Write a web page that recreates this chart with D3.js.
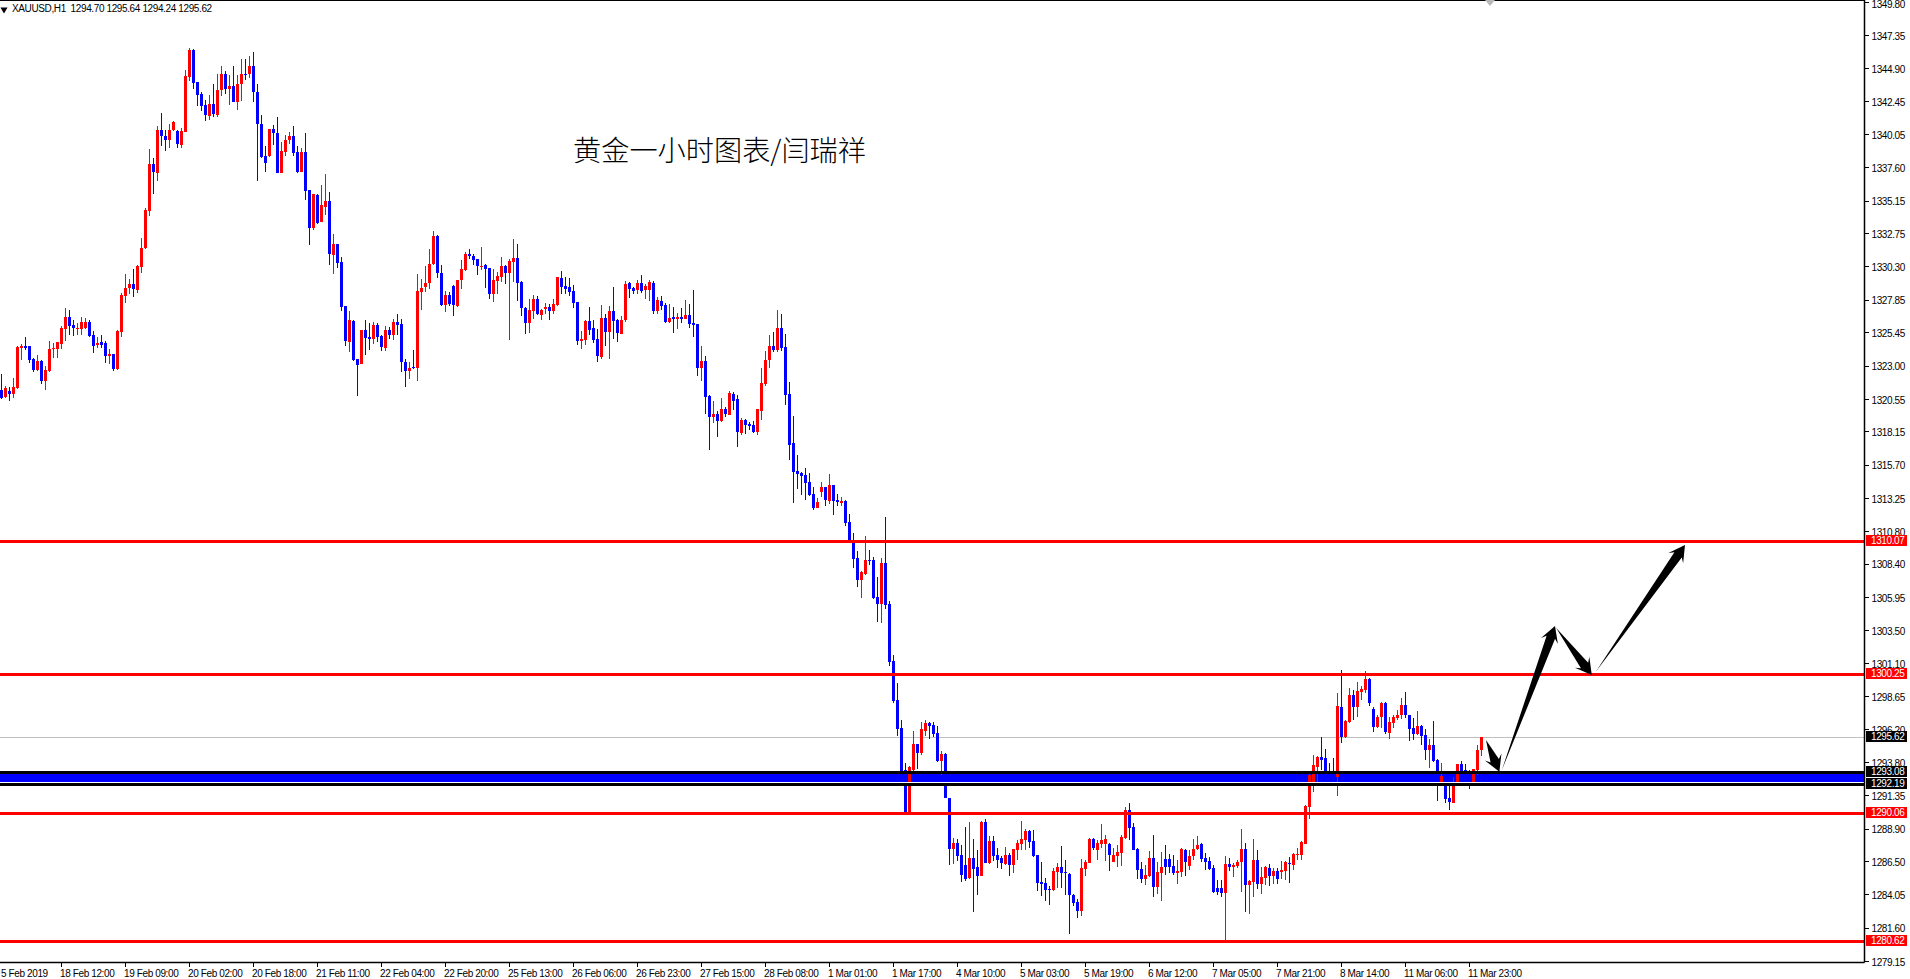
<!DOCTYPE html>
<html><head><meta charset="utf-8">
<script src="https://cdn.jsdelivr.net/npm/d3@7"></script>
<style>
html,body{margin:0;padding:0;background:#fff;overflow:hidden}
svg{display:block}
text{font-family:"Liberation Sans",Arial,sans-serif;font-size:10px;letter-spacing:-0.38px;fill:#000}
</style></head><body>
<svg id="c" width="1910" height="979"></svg>
<script>
const symbolInfo="XAUUSD,H1  1294.70 1295.64 1294.24 1295.62";
const chartTitle="黄金一小时图表/闫瑞祥";
const highs=[
1322.35,1321.47,1321.42,1322.09,1324.47,1324.61,1325.08,1324.47,1323.58,1323.75,
1323.44,1322.94,1324.83,1324.66,1324.76,1325.89,1327.22,1327.12,1326.38,1326.14,
1326.55,1326.50,1326.38,1325.52,1325.10,1325.23,1324.79,1324.25,1323.88,1325.64,
1328.37,1329.72,1329.40,1330.09,1330.38,1332.37,1334.63,1338.98,1338.31,1340.67,
1341.58,1340.37,1340.82,1341.04,1340.33,1340.52,1344.74,1346.41,1346.34,1343.86,
1343.12,1342.53,1342.90,1343.76,1344.45,1345.09,1344.67,1344.38,1345.04,1344.38,
1345.60,1345.60,1345.82,1346.07,1343.71,1341.48,1339.15,1340.40,1340.74,1341.28,
1339.47,1339.96,1340.20,1340.62,1339.20,1339.05,1340.10,1335.91,1335.66,1335.61,
1336.27,1337.08,1335.76,1332.71,1331.93,1330.97,1327.36,1326.99,1326.33,1323.51,
1325.64,1326.33,1326.14,1326.18,1326.14,1325.23,1325.89,1325.84,1326.41,1326.77,
1326.45,1323.46,1323.26,1324.17,1329.72,1329.40,1330.31,1331.61,1332.89,1332.64,
1330.43,1328.47,1328.39,1328.91,1329.33,1330.75,1331.36,1331.61,1331.19,1330.87,
1331.71,1330.51,1330.16,1330.14,1329.89,1330.97,1330.38,1330.87,1332.30,1331.93,
1329.20,1327.31,1327.93,1328.17,1328.10,1327.19,1327.63,1327.56,1327.93,1329.55,
1329.94,1329.52,1329.47,1328.96,1327.71,1325.55,1326.33,1327.29,1326.38,1325.72,
1327.44,1326.82,1327.36,1328.79,1326.45,1326.63,1329.25,1329.16,1328.79,1329.28,
1329.66,1329.00,1329.29,1329.22,1328.04,1328.12,1327.60,1327.53,1327.31,1326.86,
1327.23,1327.82,1327.53,1328.56,1326.05,1324.43,1323.70,1320.82,1320.38,1319.65,
1320.60,1319.94,1321.12,1321.05,1320.82,1319.13,1319.06,1318.84,1318.91,1319.79,
1322.81,1324.06,1325.24,1325.46,1327.08,1326.79,1325.32,1321.78,1319.28,1316.41,
1315.15,1315.45,1315.08,1314.05,1313.24,1314.42,1314.07,1315.01,1314.20,1313.53,
1313.31,1313.09,1312.06,1310.64,1309.33,1307.86,1310.44,1309.41,1308.89,1307.42,
1308.82,1311.84,1305.65,1301.72,1299.64,1296.89,1293.70,1293.50,1296.08,1295.12,
1296.77,1296.89,1296.74,1296.74,1296.45,1294.63,1294.46,1291.17,1288.20,1288.13,
1287.68,1289.01,1289.38,1288.13,1287.32,1289.45,1289.60,1288.35,1288.35,1287.46,
1286.87,1287.54,1287.07,1287.39,1288.05,1289.45,1288.86,1288.79,1288.79,1286.95,
1286.43,1285.25,1284.67,1285.99,1286.36,1287.61,1286.58,1285.60,1284.08,1283.71,
1286.65,1286.58,1288.20,1288.20,1288.05,1289.23,1288.42,1287.83,1287.46,1287.68,
1288.42,1290.48,1290.78,1289.31,1287.44,1286.43,1286.21,1287.24,1288.42,1286.43,
1287.17,1287.68,1287.02,1286.95,1286.58,1287.46,1287.39,1287.32,1288.13,1288.35,
1287.83,1287.10,1286.80,1286.21,1285.11,1285.11,1286.87,1286.73,1286.33,1286.58,
1288.86,1287.83,1285.11,1288.13,1287.32,1286.09,1286.14,1286.29,1285.99,1285.99,
1286.51,1286.51,1286.83,1287.10,1287.46,1287.98,1290.63,1292.91,1294.31,1294.24,
1295.64,1294.76,1293.70,1294.09,1298.88,1300.57,1296.89,1299.25,1299.10,1299.69,
1299.40,1300.50,1299.98,1297.85,1297.26,1298.22,1298.22,1297.11,1297.26,1297.63,
1298.51,1298.95,1297.26,1297.01,1297.55,1296.52,1296.23,1295.49,1296.82,1294.02,
1293.72,1292.23,1292.15,1292.72,1293.65,1293.87,1293.65,1293.21,1293.28,1295.05,
1295.64];
const lows=[
1320.56,1320.64,1320.39,1320.61,1321.27,1323.39,1324.12,1323.19,1322.53,1322.60,
1321.62,1321.18,1322.50,1323.58,1323.53,1324.20,1324.79,1325.23,1325.15,1325.23,
1325.23,1325.69,1325.10,1323.90,1324.29,1324.32,1323.19,1323.09,1322.60,1322.65,
1325.10,1327.61,1328.30,1328.05,1328.35,1329.82,1331.56,1333.99,1335.61,1336.59,
1339.15,1338.80,1339.02,1340.28,1339.05,1339.02,1340.18,1343.93,1343.35,1342.12,
1341.72,1341.01,1341.06,1341.31,1341.31,1342.83,1342.98,1342.17,1342.39,1341.80,
1342.46,1344.06,1344.20,1342.39,1336.57,1338.31,1337.23,1338.36,1339.22,1337.18,
1337.18,1338.41,1339.34,1338.44,1337.18,1337.23,1335.17,1331.86,1332.96,1333.45,
1333.55,1334.07,1330.38,1329.72,1330.21,1327.02,1324.42,1323.98,1323.31,1320.73,
1323.09,1323.75,1324.12,1324.56,1324.74,1324.07,1324.07,1324.96,1324.86,1325.23,
1322.53,1321.42,1322.01,1322.75,1321.84,1327.07,1328.39,1328.64,1330.38,1329.43,
1327.36,1326.92,1327.41,1326.63,1327.29,1328.66,1329.97,1330.87,1330.38,1329.65,
1330.01,1328.71,1327.93,1327.66,1328.30,1329.16,1328.98,1324.86,1329.13,1327.73,
1326.65,1325.30,1325.40,1326.41,1326.70,1326.33,1326.82,1326.33,1326.82,1327.41,
1328.30,1328.30,1328.10,1327.24,1324.49,1324.22,1324.52,1325.28,1324.66,1323.26,
1323.51,1324.42,1323.46,1324.98,1324.74,1325.30,1326.21,1327.98,1328.30,1328.25,
1328.36,1327.89,1327.77,1326.81,1326.81,1327.08,1326.13,1326.13,1325.39,1325.69,
1326.13,1326.42,1325.76,1325.10,1322.22,1321.86,1319.42,1316.77,1318.76,1317.73,
1318.84,1319.20,1319.35,1319.72,1316.99,1317.88,1317.95,1318.25,1318.03,1317.88,
1318.98,1321.49,1322.81,1323.99,1323.99,1324.06,1320.09,1316.04,1312.87,1313.90,
1313.46,1313.09,1313.39,1312.35,1312.50,1313.31,1312.65,1312.80,1311.99,1312.65,
1312.65,1311.18,1310.02,1308.08,1306.68,1305.87,1307.57,1308.30,1305.80,1304.11,
1304.03,1305.06,1300.87,1298.14,1295.71,1292.03,1290.07,1290.02,1292.96,1293.28,
1294.31,1295.71,1295.49,1295.66,1293.80,1292.84,1291.12,1286.21,1286.29,1286.51,
1284.96,1285.03,1285.18,1282.75,1284.00,1285.40,1286.36,1286.29,1286.51,1285.99,
1285.92,1286.21,1285.40,1285.62,1286.58,1287.32,1287.32,1287.44,1286.80,1284.30,
1283.93,1283.56,1283.27,1284.30,1284.52,1284.52,1284.00,1281.13,1283.19,1282.31,
1282.46,1285.40,1286.36,1287.32,1286.58,1287.46,1286.51,1285.77,1286.43,1286.06,
1286.14,1288.13,1288.05,1287.32,1285.18,1284.89,1284.74,1285.35,1283.85,1284.08,
1283.56,1285.48,1285.60,1285.48,1284.81,1285.33,1285.40,1285.84,1286.58,1287.32,
1286.43,1285.84,1285.84,1284.13,1284.00,1283.85,1280.69,1285.77,1285.35,1285.99,
1284.22,1282.75,1282.60,1283.85,1284.44,1284.08,1284.74,1284.67,1284.81,1284.81,
1285.18,1285.11,1284.89,1285.84,1286.58,1286.58,1287.76,1289.60,1291.59,1292.32,
1293.21,1293.06,1292.18,1292.10,1291.29,1295.20,1295.57,1296.65,1296.89,1297.11,
1298.36,1298.85,1297.92,1296.01,1296.30,1296.30,1295.86,1295.49,1296.30,1296.89,
1296.94,1297.01,1295.34,1295.42,1295.79,1295.05,1293.94,1293.33,1293.80,1290.93,
1292.10,1290.78,1290.26,1290.78,1292.10,1292.10,1292.72,1291.81,1292.10,1292.82,
1294.24];
const opens=[
1321.18,1320.69,1321.10,1320.93,1321.32,1324.27,1324.42,1324.42,1323.46,1322.65,
1323.31,1321.84,1322.58,1324.22,1324.20,1324.61,1325.69,1326.55,1325.96,1325.69,
1325.69,1325.74,1326.18,1325.23,1324.49,1324.71,1324.66,1323.71,1323.83,1322.72,
1325.45,1328.10,1328.69,1328.98,1328.54,1330.26,1331.63,1334.38,1337.85,1337.18,
1340.33,1339.91,1339.64,1340.33,1340.25,1339.22,1340.20,1344.25,1346.22,1343.86,
1343.03,1342.17,1341.41,1342.29,1341.43,1343.27,1344.45,1343.37,1343.62,1342.44,
1343.71,1344.50,1344.45,1345.04,1343.12,1340.82,1338.41,1338.41,1340.40,1340.15,
1337.18,1338.71,1339.59,1339.91,1338.71,1337.23,1338.71,1335.91,1333.11,1335.54,
1333.55,1334.68,1335.10,1331.12,1331.93,1330.60,1327.36,1324.74,1326.26,1323.46,
1323.14,1325.64,1325.10,1324.96,1325.96,1325.18,1324.32,1325.60,1325.23,1326.18,
1326.04,1323.24,1322.60,1322.87,1322.82,1328.42,1328.79,1329.08,1330.46,1332.52,
1329.84,1327.49,1328.17,1328.84,1327.39,1329.28,1330.06,1331.19,1331.09,1330.82,
1330.31,1330.38,1330.16,1328.25,1329.23,1329.52,1330.33,1329.82,1330.63,1330.90,
1329.13,1327.27,1326.11,1326.99,1327.88,1326.70,1327.14,1327.29,1326.99,1327.46,
1329.45,1328.86,1328.79,1328.47,1327.66,1324.81,1324.86,1326.26,1325.77,1324.93,
1323.63,1326.48,1325.47,1326.99,1326.38,1325.35,1326.33,1329.08,1328.69,1328.54,
1329.07,1328.56,1328.56,1329.07,1327.01,1327.75,1327.45,1326.20,1326.57,1326.42,
1326.57,1326.42,1326.72,1326.13,1326.05,1322.81,1323.33,1320.75,1319.20,1319.42,
1318.91,1319.79,1319.35,1320.90,1320.53,1318.03,1318.98,1318.69,1318.61,1318.10,
1319.65,1321.63,1323.40,1324.43,1324.14,1325.76,1324.36,1320.90,1317.29,1315.23,
1315.08,1314.93,1314.42,1313.53,1312.50,1313.68,1314.05,1313.02,1314.20,1313.09,
1312.87,1313.02,1311.47,1310.12,1308.82,1307.20,1307.64,1308.67,1308.67,1305.95,
1305.43,1308.45,1305.43,1301.23,1298.36,1296.30,1293.21,1290.07,1293.21,1295.12,
1294.44,1296.08,1296.67,1296.52,1295.93,1293.87,1294.39,1291.15,1287.39,1287.83,
1286.95,1286.21,1285.23,1286.73,1286.04,1285.40,1289.38,1286.36,1287.98,1286.95,
1286.70,1286.29,1286.95,1286.21,1287.32,1287.76,1288.05,1288.72,1287.98,1286.95,
1284.96,1284.86,1284.44,1284.37,1285.70,1286.04,1285.70,1285.55,1284.00,1283.49,
1282.82,1285.92,1286.36,1288.13,1287.32,1287.76,1287.76,1287.76,1286.43,1286.87,
1287.10,1288.20,1290.26,1289.01,1287.39,1285.92,1285.18,1285.40,1286.73,1284.59,
1285.62,1286.63,1286.63,1286.14,1285.62,1285.70,1287.32,1286.14,1286.87,1287.39,
1287.76,1286.73,1286.51,1285.99,1284.52,1284.52,1284.15,1286.29,1286.06,1286.14,
1286.43,1287.39,1284.74,1284.96,1286.58,1284.81,1285.25,1285.99,1285.40,1285.77,
1285.70,1285.77,1286.33,1286.21,1286.95,1286.95,1287.76,1290.48,1292.23,1293.43,
1294.17,1294.09,1293.09,1293.09,1292.72,1297.85,1295.64,1296.74,1298.73,1297.85,
1298.95,1299.10,1299.91,1297.70,1296.38,1297.11,1298.14,1295.93,1296.67,1297.04,
1297.26,1298.00,1297.26,1296.30,1295.86,1296.45,1295.79,1294.68,1295.05,1293.95,
1292.18,1292.23,1291.15,1290.80,1292.18,1293.65,1293.21,1292.84,1292.32,1293.21,
1294.70];
const closes=[
1320.64,1321.35,1320.88,1321.40,1324.34,1324.42,1324.27,1323.39,1322.65,1323.31,
1321.84,1322.65,1324.25,1324.29,1324.71,1325.74,1326.55,1325.89,1325.74,1325.74,
1326.23,1326.18,1325.15,1324.44,1324.69,1324.54,1323.71,1323.83,1322.72,1325.52,
1328.17,1328.74,1328.98,1328.62,1330.31,1331.63,1334.43,1337.85,1337.23,1340.33,
1339.88,1339.59,1340.37,1340.91,1339.32,1340.25,1344.30,1346.22,1343.81,1342.90,
1342.09,1341.43,1342.24,1341.50,1343.32,1344.45,1343.39,1343.62,1342.44,1343.76,
1344.50,1344.45,1345.04,1343.12,1340.77,1338.36,1337.92,1340.40,1340.13,1337.18,
1338.78,1339.64,1339.91,1338.66,1337.23,1338.71,1335.86,1333.11,1335.61,1333.50,
1334.80,1335.10,1331.19,1331.93,1330.55,1327.31,1324.81,1326.33,1323.39,1323.04,
1325.60,1325.06,1324.93,1325.96,1325.10,1324.37,1325.60,1325.25,1326.18,1325.99,
1323.26,1322.60,1322.85,1322.80,1328.47,1328.74,1329.11,1330.51,1332.52,1329.82,
1327.49,1328.20,1327.51,1327.46,1329.33,1330.14,1331.19,1331.05,1330.75,1330.33,
1330.36,1330.11,1328.25,1329.28,1329.57,1330.31,1329.82,1330.70,1330.90,1329.06,
1327.22,1326.11,1327.07,1327.88,1326.80,1327.07,1327.34,1326.99,1327.51,1329.50,
1328.79,1328.64,1328.39,1327.61,1324.81,1324.93,1326.28,1325.64,1324.86,1323.68,
1326.48,1325.50,1326.99,1326.26,1325.40,1326.33,1329.03,1328.62,1328.47,1329.08,
1328.48,1328.85,1329.15,1327.01,1327.82,1327.38,1326.20,1326.50,1326.42,1326.57,
1326.42,1326.72,1326.05,1325.98,1322.81,1323.33,1320.68,1319.20,1319.42,1318.91,
1319.79,1319.42,1320.97,1320.38,1318.10,1318.98,1318.61,1318.54,1318.10,1319.79,
1321.71,1323.40,1324.43,1324.14,1325.76,1324.29,1320.82,1317.14,1315.15,1315.01,
1314.86,1314.34,1313.46,1312.50,1312.94,1314.05,1313.09,1314.20,1313.02,1312.94,
1313.02,1311.40,1310.07,1308.75,1307.20,1307.79,1308.67,1308.60,1305.87,1305.43,
1308.45,1305.36,1301.16,1298.29,1296.23,1292.84,1290.12,1293.40,1295.12,1294.44,
1296.23,1296.67,1296.45,1295.86,1293.87,1294.39,1291.12,1287.39,1287.83,1286.87,
1285.48,1285.18,1286.73,1285.92,1285.40,1289.38,1286.36,1287.98,1286.87,1286.58,
1286.36,1286.95,1286.21,1287.39,1287.83,1288.13,1288.72,1287.91,1286.87,1284.89,
1284.81,1284.37,1284.37,1285.77,1286.06,1285.62,1285.62,1284.00,1283.41,1282.82,
1285.99,1286.43,1288.13,1287.46,1287.83,1288.05,1288.13,1286.95,1286.95,1287.17,
1288.27,1290.26,1288.94,1287.32,1285.84,1285.18,1285.48,1286.73,1284.59,1285.70,
1286.06,1286.09,1286.04,1285.62,1285.77,1287.39,1286.43,1286.87,1287.39,1287.68,
1286.65,1286.43,1285.92,1284.22,1284.20,1284.15,1286.29,1286.06,1286.21,1286.43,
1287.39,1284.74,1285.03,1286.58,1284.81,1285.33,1286.06,1285.40,1285.77,1285.18,
1285.84,1286.43,1286.26,1287.02,1287.02,1287.91,1290.56,1292.84,1293.58,1294.17,
1293.95,1293.09,1292.47,1292.96,1297.92,1295.64,1296.82,1298.73,1297.85,1299.03,
1299.17,1299.91,1298.14,1296.38,1297.11,1298.14,1296.01,1296.74,1297.11,1297.26,
1298.00,1297.26,1296.23,1295.86,1296.45,1295.71,1294.68,1295.05,1293.87,1292.23,
1292.74,1291.07,1290.85,1292.25,1293.65,1293.13,1292.84,1292.18,1293.28,1294.68,
1295.62];
const priceTicks=[1349.80,1347.35,1344.90,1342.45,1340.05,1337.60,1335.15,1332.75,1330.30,1327.85,1325.45,1323.00,1320.55,1318.15,1315.70,1313.25,1310.80,1308.40,1305.95,1303.50,1301.10,1298.65,1296.20,1293.80,1291.35,1288.90,1286.50,1284.05,1281.60,1279.15];
const timeLabels=["5 Feb 2019","18 Feb 12:00","19 Feb 09:00","20 Feb 02:00","20 Feb 18:00","21 Feb 11:00","22 Feb 04:00","22 Feb 20:00","25 Feb 13:00","26 Feb 06:00","26 Feb 23:00","27 Feb 15:00","28 Feb 08:00","1 Mar 01:00","1 Mar 17:00","4 Mar 10:00","5 Mar 03:00","5 Mar 19:00","6 Mar 12:00","7 Mar 05:00","7 Mar 21:00","8 Mar 14:00","11 Mar 06:00","11 Mar 23:00"];
const redLevels=[1310.07,1300.25,1290.06,1280.62];
const blackLevels=[1293.08,1292.19];
const lastPrice=1295.62;
// arrows: [fromBar, fromPrice, toBar, toPrice]
const arrowFromBar=[371.25,375.2,388.75,398.7];
const arrowFromPrice=[1295.42,1293.2,1303.69,1300.45];
const arrowToBar=[374.6,388.5,397.7,421];
const arrowToPrice=[1293.09,1303.82,1300.21,1309.78];

const AX=1864.5, BOT=962.5;
const svg=d3.select("#c");
const x=d3.scaleLinear().domain([0,370]).range([1,1481]);
const y=d3.scaleLinear().domain([1279.15,1349.80]).range([961,1.6]);
const Y=p=>Math.round(y(p));

// last-price line and band under the candles
svg.append("rect").attr("x",0).attr("width",AX).attr("y",Y(lastPrice)).attr("height",1).attr("fill","#c0c0c0");
svg.append("rect").attr("x",0).attr("width",AX).attr("y",Y(blackLevels[0])).attr("height",Y(blackLevels[1])-Y(blackLevels[0])).attr("fill","#0000ff");

const idx=d3.range(closes.length);
const cg=svg.append("g").attr("shape-rendering","crispEdges");
const col=i=>closes[i]>=opens[i]?"#ff0000":"#0000ff";
cg.selectAll(".w").data(idx).join("rect").attr("class","w")
  .attr("x",i=>x(i)).attr("width",1)
  .attr("y",i=>Y(highs[i])).attr("height",i=>Math.max(1,Y(lows[i])-Y(highs[i])))
  .attr("fill",col);
cg.selectAll(".b").data(idx).join("rect").attr("class","b")
  .attr("x",i=>x(i)-1).attr("width",3)
  .attr("y",i=>Y(Math.max(opens[i],closes[i])))
  .attr("height",i=>Math.max(1,Y(Math.min(opens[i],closes[i]))-Y(Math.max(opens[i],closes[i]))))
  .attr("fill",col);

// level lines
const lg=svg.append("g").attr("shape-rendering","crispEdges");
lg.selectAll(".r").data(redLevels).join("rect").attr("x",0).attr("width",AX).attr("y",d=>Y(d)-1).attr("height",3).attr("fill","#ff0000");
lg.selectAll(".k").data(blackLevels).join("rect").attr("x",0).attr("width",AX).attr("y",d=>Y(d)-1).attr("height",3).attr("fill","#000");
lg.append("rect").attr("x",0).attr("width",AX).attr("y",Y(blackLevels[1])-2).attr("height",1).attr("fill","#fff");

// arrows
const arrowPath=(i)=>{
  const x0=x(arrowFromBar[i]),y0=y(arrowFromPrice[i]),x1=x(arrowToBar[i]),y1=y(arrowToPrice[i]);
  const L=Math.hypot(x1-x0,y1-y0),ux=(x1-x0)/L,uy=(y1-y0)/L,nx=-uy,ny=ux;
  const pt=(back,side)=>[x1-ux*back+nx*side,y1-uy*back+ny*side];
  return d3.line()([[x0,y0],pt(12,4.5),pt(16,9),[x1,y1],pt(16,-9),pt(12,-4.5)])+"Z";
};
svg.append("g").selectAll("path").data(d3.range(arrowFromBar.length)).join("path").attr("d",arrowPath).attr("fill","#000");

// frame
svg.append("rect").attr("x",0).attr("y",0).attr("width",AX).attr("height",1).attr("fill","#000");
svg.append("path").attr("d",d3.line()([[1485,0],[1495,0],[1490,6]])+"Z").attr("fill","#b8b8b8");

// axes
const yAxis=svg.append("g").attr("transform",`translate(${AX},0)`)
  .call(d3.axisRight(y).tickValues(priceTicks).tickFormat(d3.format(".2f")).tickSize(4).tickPadding(3));
yAxis.select(".domain").attr("d",`M0,0V${BOT}`).attr("stroke","#000").attr("stroke-width",1.5);
yAxis.selectAll(".tick line").attr("stroke","#000").attr("shape-rendering","crispEdges");
yAxis.selectAll("text").attr("font-family",null).attr("font-size",null).attr("y",d=>d===priceTicks[0]?2.5:1);
const tickIdx=timeLabels.map((_,k)=>-1+16*k);
const xAxis=svg.append("g").attr("transform",`translate(0,${BOT})`)
  .call(d3.axisBottom(x).tickValues(tickIdx).tickFormat((d,k)=>timeLabels[k]).tickSize(4).tickPadding(2));
xAxis.select(".domain").attr("d",`M0,0H${AX}`).attr("stroke","#000").attr("stroke-width",1.5);
xAxis.selectAll(".tick line").attr("stroke","#000").attr("x1",.5).attr("x2",.5).attr("shape-rendering","crispEdges");
xAxis.selectAll(".tick").attr("transform",d=>`translate(${x(d)},0)`);
xAxis.selectAll("text").attr("text-anchor","start").attr("x",d=>d<0?4:-1).attr("dy",".85em");
xAxis.selectAll("text").attr("font-family",null).attr("font-size",null);

// price tags
const tags=[...redLevels.map(v=>[v,"#ff0000"]),[lastPrice,"#000"],...blackLevels.map(v=>[v,"#000"])];
const tg=svg.append("g").selectAll("g").data(tags).join("g").attr("transform",d=>`translate(1866,${Y(d[0])-6})`);
tg.append("rect").attr("width",41).attr("height",11).attr("fill",d=>d[1]).attr("shape-rendering","crispEdges");
tg.append("text").attr("x",5).attr("y",9).style("fill","#fff").text(d=>d[0].toFixed(2));

// legend + title
svg.append("path").attr("d",d3.symbol(d3.symbolTriangle,22)()).attr("transform","translate(4,9.5) rotate(180)").attr("fill","#000");
svg.append("text").attr("x",12).attr("y",12).style("white-space","pre").text(symbolInfo);
svg.append("text").attr("x",573).attr("y",161).style("font-family",'"Noto Sans CJK SC"').style("font-size","28.2px").style("letter-spacing","0").style("font-weight",300).text(chartTitle);
</script>
</body></html>
